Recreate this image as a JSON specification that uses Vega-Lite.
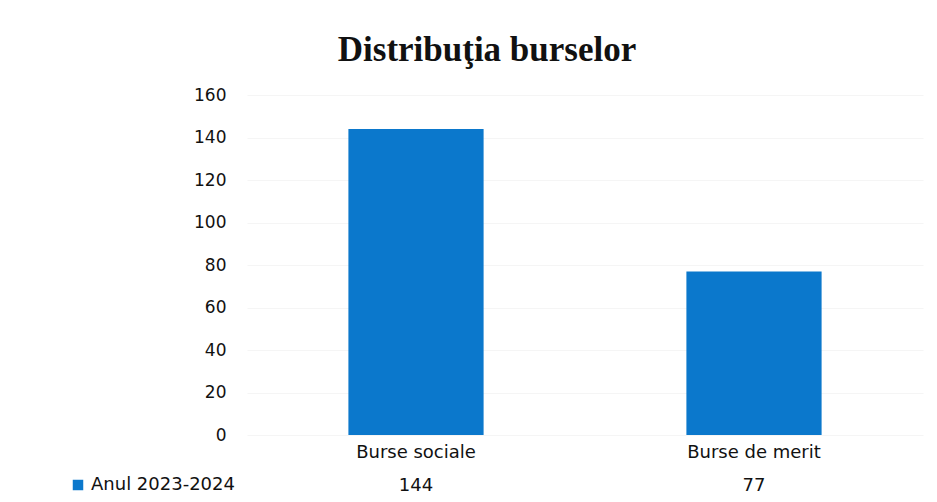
{
  "$schema": "https://vega.github.io/schema/vega-lite/v6.json",
  "width": 676,
  "height": 340,
  "autosize": "none",
  "padding": {"left": 247, "top": 95, "right": 14, "bottom": 67},
  "background": "white",
  "config": {"view": {"stroke": null}, "font": "DejaVu Sans"},
  "title": {
    "text": "Distribuţia burselor",
    "font": "Liberation Serif",
    "fontSize": 35,
    "fontWeight": "bold",
    "color": "#111111",
    "anchor": "middle",
    "dx": -98,
    "offset": 18
  },
  "data": {
    "values": [
      {"categorie": "Burse sociale", "serie": "Anul 2023-2024", "valoare": 144},
      {"categorie": "Burse de merit", "serie": "Anul 2023-2024", "valoare": 77}
    ]
  },
  "encoding": {
    "x": {
      "field": "categorie",
      "type": "nominal",
      "sort": null,
      "scale": {"paddingInner": 0.6, "paddingOuter": 0.3},
      "axis": {
        "title": null,
        "labelAngle": 0,
        "labelFontSize": 18,
        "labelColor": "#111111",
        "labelPadding": 8,
        "domain": false,
        "ticks": false,
        "labelFont": "DejaVu Sans"
      }
    }
  },
  "layer": [
    {
      "mark": {"type": "bar", "color": "#0b78cc"},
      "encoding": {
        "y": {
          "field": "valoare",
          "type": "quantitative",
          "scale": {"domain": [0, 160]},
          "axis": {
            "title": null,
            "values": [0, 20, 40, 60, 80, 100, 120, 140, 160],
            "labelFontSize": 17,
            "labelColor": "#111111",
            "labelPadding": 21,
            "domain": false,
            "ticks": false,
            "grid": true,
            "gridColor": "#f5f5f5",
            "labelFont": "DejaVu Sans"
          }
        },
        "color": {
          "field": "serie",
          "type": "nominal",
          "scale": {"range": ["#0b78cc"]},
          "legend": {
            "title": null,
            "orient": "none",
            "legendX": -178,
            "legendY": 381,
            "symbolType": "square",
            "symbolSize": 110,
            "symbolFillColor": "#1a7bc4",
            "symbolStrokeWidth": 0,
            "labelFontSize": 18,
            "labelColor": "#111111",
            "labelFont": "DejaVu Sans",
            "labelOffset": 4
          }
        }
      }
    },
    {
      "mark": {"type": "text", "fontSize": 18, "color": "#111111", "dy": 51, "baseline": "middle", "font": "DejaVu Sans"},
      "encoding": {
        "y": {"datum": 0, "type": "quantitative"},
        "text": {"field": "valoare", "type": "quantitative"}
      }
    }
  ]
}
